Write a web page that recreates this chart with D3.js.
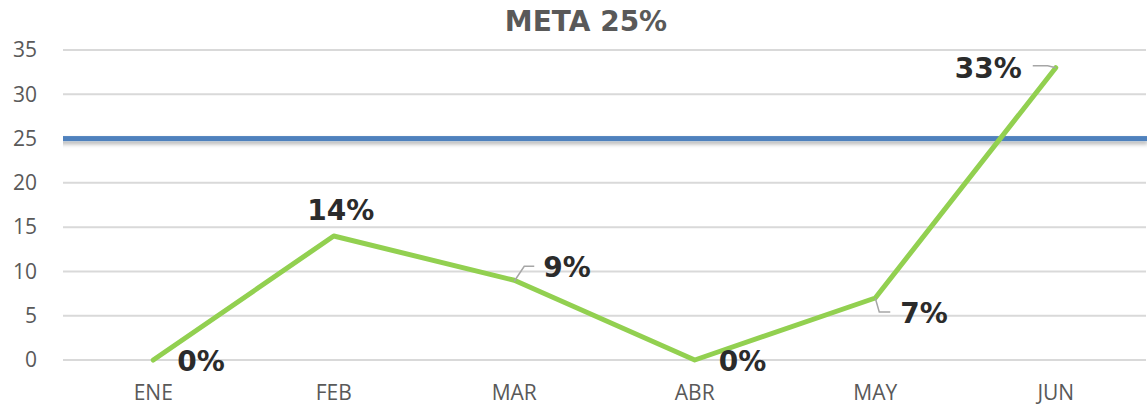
<!DOCTYPE html>
<meta charset="utf-8">
<head>
<script src="https://d3js.org/d3.v7.min.js"></script>
<style>
  body { margin: 0; background: #fff; }
</style>
</head>
<body>
<div id="chart"></div>
<script>
// data
var months = ["ENE", "FEB", "MAR", "ABR", "MAY", "JUN"];
var values = [0, 14, 9, 0, 7, 33];
var meta = 25;
var yTicks = [0, 5, 10, 15, 20, 25, 30, 35];
var title = "META 25%";
// where each data label sits relative to its point
var labelPlace = ["belowRight", "above", "leaderUp", "belowRight", "leaderDown", "leaderLeft"];

var W = 1147, H = 405;
var margin = {top: 50, right: 1, bottom: 45, left: 63},
    width = W - margin.left - margin.right,
    height = H - margin.top - margin.bottom;

var svg = d3.select("#chart").append("svg")
    .attr("width", W).attr("height", H)
    .style("font-family", "'Liberation Sans', Arial, sans-serif");

var defs = svg.append("defs");
var f = defs.append("filter").attr("id", "shadow")
  .attr("filterUnits", "userSpaceOnUse")
  .attr("x", 0).attr("y", 0).attr("width", W).attr("height", H);
f.append("feDropShadow").attr("dx", 1).attr("dy", 3).attr("stdDeviation", 2)
  .attr("flood-color", "#000").attr("flood-opacity", 0.3);

var g = svg.append("g").attr("transform", "translate(" + margin.left + "," + margin.top + ")");

var x = d3.scaleBand().domain(months).range([0, width]);
var y = d3.scaleLinear().domain([0, 35]).range([height, 0]);

// gridlines
g.selectAll(".grid").data(yTicks).enter().append("line")
  .attr("x1", 0).attr("x2", width)
  .attr("y1", function(d) { return y(d); })
  .attr("y2", function(d) { return y(d); })
  .attr("stroke", "#d9d9d9").attr("stroke-width", 2);

// y axis labels
var yAxis = g.append("g").call(d3.axisLeft(y).tickValues(yTicks).tickSize(0).tickPadding(26));
yAxis.select(".domain").remove();
yAxis.selectAll("text").attr("fill", "#595959").style("font-size", "21px")
  .style("font-family", "'Open Sans', sans-serif");

// x axis labels
var xAxis = g.append("g").attr("transform", "translate(0," + height + ")")
  .call(d3.axisBottom(x).tickSize(0).tickPadding(25));
xAxis.select(".domain").remove();
xAxis.selectAll("text").attr("fill", "#595959").style("font-size", "21px")
  .style("font-family", "'Open Sans', sans-serif");

// meta line
g.append("rect")
  .attr("x", -6).attr("width", width + 7)
  .attr("y", y(meta) - 2.5).attr("height", 5)
  .attr("fill", "#4f81bd")
  .attr("filter", "url(#shadow)");

// series line
var cx = function(d, i) { return x(months[i]) + x.bandwidth() / 2; };
var line = d3.line()
  .x(function(d, i) { return cx(d, i); })
  .y(function(d) { return y(d); });

g.append("path").datum(values)
  .attr("d", line)
  .attr("fill", "none")
  .attr("stroke", "#92d050")
  .attr("stroke-width", 5)
  .attr("stroke-linejoin", "round")
  .attr("stroke-linecap", "round");

// data labels
values.forEach(function(v, i) {
  var px = cx(v, i), py = y(v);
  var place = labelPlace[i];
  var tx, ty, anchor = "start", leader = null;
  if (place === "belowRight") { tx = px + 24; ty = py + 11; }
  else if (place === "above") { tx = px + 7; ty = py - 16; anchor = "middle"; }
  else if (place === "leaderUp") {
    tx = px + 29; ty = py - 3;
    leader = [[px, py + 1], [px + 10, py - 14], [px + 20, py - 14]];
  }
  else if (place === "leaderDown") {
    tx = px + 25; ty = py + 25;
    leader = [[px, py], [px + 4, py + 14], [px + 15, py + 14]];
  }
  else if (place === "leaderLeft") {
    tx = px - 34; ty = py + 10; anchor = "end";
    leader = [[px, py], [px - 8, py - 2], [px - 23, py - 2]];
  }
  if (leader) {
    g.append("path").attr("d", d3.line()(leader))
      .attr("fill", "none").attr("stroke", "#a6a6a6").attr("stroke-width", 1.5);
  }
  g.append("text")
    .attr("x", tx).attr("y", ty)
    .attr("text-anchor", anchor)
    .attr("fill", "#2b2b2b")
    .style("font-family", "'DejaVu Sans', Verdana, sans-serif")
    .style("font-weight", "bold")
    .style("font-size", "28px")
    .text(v + "%");
});

// title
svg.append("text")
  .attr("x", 586).attr("y", 31)
  .attr("text-anchor", "middle")
  .attr("fill", "#595959")
  .style("font-family", "'DejaVu Sans', Verdana, sans-serif")
  .style("font-weight", "bold")
  .style("font-size", "28px")
  .text(title);
</script>
</body>
